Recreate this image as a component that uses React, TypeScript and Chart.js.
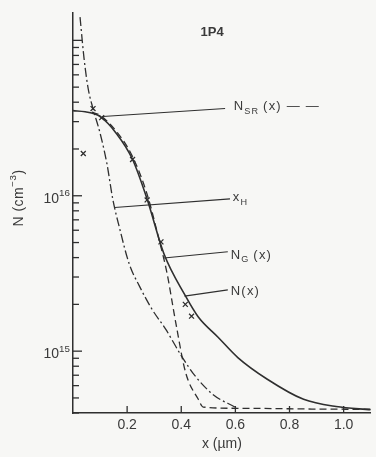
import React, { useEffect, useRef } from 'react';
import { Chart, registerables } from 'chart.js';

Chart.register(...registerables);

// ---- axes ----
const X_MIN = 0;
const X_MAX = 1.1;
const Y_MIN = 4e14;
const Y_MAX = 1.5e17;
const X_TICKS = [0.2, 0.4, 0.6, 0.8, 1.0];
const Y_LABEL_DECADES = [15, 16];

// ---- N(x), solid ----
const N_X = [0, 0.045, 0.099, 0.161, 0.219, 0.274, 0.336, 0.416, 0.463, 0.536, 0.609, 0.718, 0.852, 0.972, 1.1];
const N_VAL = [3.53e16, 3.47e16, 3.24e16, 2.51e16, 1.73e16, 9.5e15, 4.23e15, 2.26e15, 1.66e15, 1.23e15, 9.1e14, 6.6e14, 4.9e14, 4.4e14, 4.2e14];

// ---- N_G(x), dash-dot ----
const NG_X = [0.026, 0.041, 0.056, 0.074, 0.099, 0.125, 0.147, 0.172, 0.208, 0.245, 0.292, 0.343, 0.401, 0.452, 0.518, 0.598];
const NG_VAL = [1.41e17, 7.6e16, 4.9e16, 3.63e16, 2.57e16, 1.62e16, 9.5e15, 6.2e15, 3.63e15, 2.63e15, 1.86e15, 1.38e15, 9.3e14, 6.9e14, 5.25e14, 4.37e14];

// ---- N_SR(x), dashed ----
const NSR_X = [0.07, 0.099, 0.16, 0.219, 0.274, 0.317, 0.347, 0.379, 0.416, 0.463, 0.481, 0.609, 1.008, 1.1];
const NSR_VAL = [3.45e16, 3.3e16, 2.6e16, 1.8e16, 1.02e16, 5.3e15, 3.2e15, 1.55e15, 7.3e14, 4.9e14, 4.37e14, 4.29e14, 4.23e14, 4.23e14];

// ---- x_H markers ----
const XH_X = [0.038, 0.074, 0.106, 0.22, 0.274, 0.325, 0.415, 0.438];
const XH_VAL = [1.87e16, 3.64e16, 3.18e16, 1.71e16, 9.4e15, 5.05e15, 2.0e15, 1.68e15];

// ---- pointer lines (start -> end) ----
const PTR_X0 = [0.11, 0.154, 0.336, 0.412];
const PTR_Y0 = [3.24e16, 8.4e15, 3.98e15, 2.26e15];
const PTR_X1 = [0.562, 0.58, 0.572, 0.572];
const PTR_Y1 = [3.64e16, 9.55e15, 4.36e15, 2.48e15];

// ---- labels ----
const LABEL_X = [0.594, 0.59, 0.583, 0.583];
const LABEL_Y = [3.75e16, 9.8e15, 4.16e15, 2.44e15];
const LABEL_MAIN = ['N', 'x', 'N', 'N'];
const LABEL_SUB = ['SR', 'H', 'G', ''];
const LABEL_TAIL = ['(x) \u2014 \u2014', '', '(x)', '(x)'];

const PANEL_TEXT = '1P4';
const PANEL_X = 0.514;
const PANEL_Y = 1.12e17;

const X_TITLE = 'x (\u00b5m)';

const LINE = '#2f2f2f';
const TEXT = '#3a3a3a';
const FONT = '"Liberation Sans", Arial, Helvetica, sans-serif';

type Piece = [string, number]; // 0 normal, 1 sup, -1 sub

function drawRich(ctx: CanvasRenderingContext2D, pieces: Piece[], x: number, y: number, size: number, align: 'left' | 'center' | 'right', spacing = 0) {
  const subSize = size * 0.7;
  (ctx as any).letterSpacing = spacing + 'px';
  const widths = pieces.map(([t, k]) => {
    ctx.font = `${k === 0 ? size : subSize}px ${FONT}`;
    return ctx.measureText(t).width;
  });
  const total = widths.reduce((a, b) => a + b, 0);
  let cx = align === 'left' ? x : align === 'center' ? x - total / 2 : x - total;
  ctx.textAlign = 'left';
  ctx.textBaseline = 'middle';
  pieces.forEach(([t, k], i) => {
    ctx.font = `${k === 0 ? size : subSize}px ${FONT}`;
    const dy = k === 1 ? -size * 0.38 : k === -1 ? size * 0.38 : 0;
    ctx.fillText(t, cx, y + dy);
    cx += widths[i];
  });
  (ctx as any).letterSpacing = '0px';
}

const decor = {
  id: 'decor',
  afterDatasetsDraw(chart: any) {
    const { ctx, chartArea, scales } = chart;
    const xs = scales.x;
    const ys = scales.y;
    ctx.save();
    ctx.strokeStyle = LINE;
    ctx.lineWidth = 1.3;
    // inward y ticks
    for (let d = 14; d <= 17; d++) {
      for (let m = 1; m <= 9; m++) {
        const v = m * Math.pow(10, d);
        if (v < Y_MIN || v > Y_MAX) continue;
        const py = ys.getPixelForValue(v);
        const len = m === 1 ? 9 : 6;
        ctx.beginPath();
        ctx.moveTo(chartArea.left, py);
        ctx.lineTo(chartArea.left + len, py);
        ctx.stroke();
      }
    }
    // inward x ticks
    X_TICKS.forEach((v) => {
      const px = xs.getPixelForValue(v);
      ctx.beginPath();
      ctx.moveTo(px, chartArea.bottom);
      ctx.lineTo(px, chartArea.bottom - 7);
      ctx.stroke();
    });
    ctx.fillStyle = TEXT;
    // y tick labels
    Y_LABEL_DECADES.forEach((d) => {
      const py = ys.getPixelForValue(Math.pow(10, d));
      drawRich(ctx, [['10', 0], [String(d), 1]], chartArea.left - 3, py + 3, 14, 'right');
    });
    // y title
    ctx.save();
    ctx.translate(19, 198);
    ctx.rotate(-Math.PI / 2);
    drawRich(ctx, [['N (cm', 0], ['\u22123', 1], [')', 0]], 0, 0, 14, 'center', 0.5);
    ctx.restore();
    // panel text
    ctx.font = `bold 13px ${FONT}`;
    ctx.textAlign = 'center';
    ctx.textBaseline = 'middle';
    ctx.fillText(PANEL_TEXT, xs.getPixelForValue(PANEL_X), ys.getPixelForValue(PANEL_Y));
    // curve labels
    LABEL_MAIN.forEach((m, i) => {
      const pieces: Piece[] = [[m, 0]];
      if (LABEL_SUB[i]) pieces.push([LABEL_SUB[i] + ' ', -1]);
      if (LABEL_TAIL[i]) pieces.push([LABEL_TAIL[i], 0]);
      drawRich(ctx, pieces, xs.getPixelForValue(LABEL_X[i]), ys.getPixelForValue(LABEL_Y[i]), 13, 'left', 1.2);
    });
    ctx.restore();
  },
};

const pts = (xs: number[], ys: number[]) => xs.map((x, i) => ({ x, y: ys[i] }));

export default function App() {
  const ref = useRef<HTMLCanvasElement>(null);
  useEffect(() => {
    const pointerSets = PTR_X0.map((x0, i) => ({
      label: 'ptr' + i,
      data: [{ x: x0, y: PTR_Y0[i] }, { x: PTR_X1[i], y: PTR_Y1[i] }],
      borderColor: LINE,
      borderWidth: 1.1,
      pointRadius: 0,
      fill: false,
    }));
    const chart = new Chart(ref.current as HTMLCanvasElement, {
      type: 'line',
      data: {
        datasets: [
          { label: 'N(x)', data: pts(N_X, N_VAL), borderColor: LINE, borderWidth: 1.6, pointRadius: 0, cubicInterpolationMode: 'monotone', fill: false },
          { label: 'N_G(x)', data: pts(NG_X, NG_VAL), borderColor: LINE, borderWidth: 1.3, borderDash: [9, 3, 2, 3], pointRadius: 0, cubicInterpolationMode: 'monotone', fill: false },
          { label: 'N_SR(x)', data: pts(NSR_X, NSR_VAL), borderColor: LINE, borderWidth: 1.3, borderDash: [7, 4], pointRadius: 0, cubicInterpolationMode: 'monotone', fill: false },
          { label: 'x_H', data: pts(XH_X, XH_VAL), showLine: false, pointStyle: 'crossRot', pointRadius: 3.5, pointBorderWidth: 1.3, pointBorderColor: LINE, borderColor: LINE },
          ...pointerSets,
        ] as any,
      },
      options: {
        animation: false,
        responsive: false,
        devicePixelRatio: 1,
        layout: { padding: { top: 13, right: 0, left: 0, bottom: 0 } },
        plugins: { legend: { display: false }, tooltip: { enabled: false } },
        scales: {
          x: {
            type: 'linear',
            min: X_MIN,
            max: X_MAX,
            grid: { display: false, drawTicks: false },
            border: { display: true, color: LINE, width: 1.5 },
            afterBuildTicks: (s: any) => { s.ticks = X_TICKS.map((v) => ({ value: v })); },
            afterFit: (s: any) => { s.height = 44; },
            ticks: {
              padding: 4,
              color: TEXT,
              font: { size: 14, family: FONT },
              maxRotation: 0,
              callback: (v: any) => Number(v).toFixed(1),
            },
            title: { display: true, text: X_TITLE, color: TEXT, font: { size: 14, family: FONT }, padding: { top: 0, bottom: 4 } },
          },
          y: {
            type: 'logarithmic',
            min: Y_MIN,
            max: Y_MAX,
            grid: { display: false, drawTicks: false },
            border: { display: true, color: LINE, width: 1.5 },
            ticks: { display: false },
            afterFit: (s: any) => { s.width = 73; },
          },
        },
      } as any,
      plugins: [decor],
    });
    return () => chart.destroy();
  }, []);
  return (
    <div style={{ position: 'fixed', left: 0, top: 0, width: 376, height: 457, background: '#f7f7f5' }}>
      <canvas ref={ref} width={376} height={457} style={{ display: 'block', width: 376, height: 457 }} />
    </div>
  );
}
